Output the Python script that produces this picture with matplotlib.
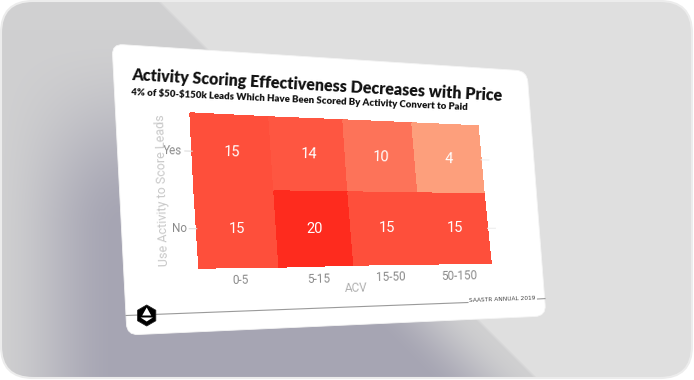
#!/usr/bin/env python3
import numpy as np
import matplotlib.pyplot as plt
from matplotlib.path import Path
from matplotlib.patches import PathPatch, FancyBboxPatch, RegularPolygon, Polygon
from matplotlib.colors import LinearSegmentedColormap

# data
acv_bins = ["0-5", "5-15", "15-50", "50-150"]
scored = ["Yes", "No"]
conv_yes = [15, 14, 10, 4]
conv_no = [15, 20, 15, 15]

title = "Activity Scoring Effectiveness Decreases with Price"
subtitle = "4% of $50-$150k Leads Which Have Been Scored By Activity Convert to Paid"

W, H = 694, 380
fig = plt.figure(figsize=(W / 100, H / 100), dpi=100, facecolor="white")
ax = fig.add_axes([0, 0, 1, 1])
ax.set_xlim(0, W)
ax.set_ylim(H, 0)
ax.axis("off")
renderer = fig.canvas.get_renderer()


def homography(src, dst):
    A, b = [], []
    for (x, y), (u, v) in zip(src, dst):
        A.append([x, y, 1, 0, 0, 0, -u * x, -u * y]); b.append(u)
        A.append([0, 0, 0, x, y, 1, -v * x, -v * y]); b.append(v)
    h = np.linalg.solve(np.array(A, float), np.array(b, float))
    return np.append(h, 1).reshape(3, 3)


def warp(M, x, y):
    x = np.asarray(x, float); y = np.asarray(y, float)
    d = M[2, 0] * x + M[2, 1] * y + M[2, 2]
    return (M[0, 0] * x + M[0, 1] * y + M[0, 2]) / d, (M[1, 0] * x + M[1, 1] * y + M[1, 2]) / d


def angle(M, x, y, dx=0.05, dy=0.0):
    x0, y0 = warp(M, x - dx, y - dy)
    x1, y1 = warp(M, x + dx, y + dy)
    return np.degrees(np.arctan2(-(y1 - y0), x1 - x0))


def rounded_quad(pts, r):
    pts = np.asarray(pts, float)
    verts, codes = [], []
    n = len(pts)
    for i in range(n):
        c = pts[i]
        p = pts[i - 1]
        q = pts[(i + 1) % n]
        a = c + r * (p - c) / np.linalg.norm(p - c)
        b = c + r * (q - c) / np.linalg.norm(q - c)
        verts += [a, c, b]
        codes += [Path.MOVETO if i == 0 else Path.LINETO, Path.CURVE3, Path.CURVE3]
    verts.append(verts[0]); codes.append(Path.CLOSEPOLY)
    return Path(verts, codes)


def fit_text(x0, y0, x1, y1, s, **kw):
    t = ax.text(x0, y0, s, ha="left", va="baseline", fontsize=10, parse_math=False, **kw)
    w = t.get_window_extent(renderer).width
    t.set_fontsize(10 * np.hypot(x1 - x0, y1 - y0) / w)
    t.set_rotation(np.degrees(np.arctan2(-(y1 - y0), x1 - x0)))
    t.set_rotation_mode("anchor")
    return t


# background frame with shadow
frame = FancyBboxPatch((1, 1), W - 3, H - 3, boxstyle="round,pad=0,rounding_size=32",
                       facecolor="none", edgecolor="#ececec", linewidth=1.5, zorder=3)
ax.add_patch(frame)
yy, xx = np.mgrid[0:H, 0:W] + 0.5
light = np.array([0xdf, 0xdf, 0xdf]) / 255
mid = np.array([0xd0, 0xd0, 0xd1]) / 255
dark = np.array([0xa6, 0xa5, 0xb3]) / 255


def sm(a):
    a = np.clip(a, 0, 1)
    return a * a * (3 - 2 * a)


diag = (160 + yy - xx) / 1.414
inside = np.clip(diag / 3, 0, 1)[..., None]
t = (sm((yy - 30) / 200) * sm((xx + 10) / 130) * sm(diag / 80))[..., None]
shade = mid + (dark - mid) * t
bg = light * (1 - inside) + shade * inside
im = ax.imshow(bg, extent=(0, W, H, 0), zorder=0, interpolation="bilinear")
clip = FancyBboxPatch((1, 1), W - 3, H - 3, boxstyle="round,pad=0,rounding_size=32",
                      transform=ax.transData, facecolor="none")
im.set_clip_path(clip)

# card
card = [(112, 44), (527, 71), (546, 316), (127, 335)]
ax.add_patch(PathPatch(rounded_quad(card, 11), facecolor="white", edgecolor="#f4f4f4",
                       linewidth=0.6, zorder=1))

# heatmap in the tilted plane
HM = homography([(0, 0), (4, 0), (4, 2), (0, 2)],
                [(190, 113), (478, 126), (491, 263), (199, 268)])
cmap = LinearSegmentedColormap.from_list("sc", ["#fd9f7c", "#fe2b1e"])
vals = np.array([conv_yes, conv_no])
gx, gy = np.meshgrid(np.arange(len(acv_bins) + 1), np.arange(len(scored) + 1))
px, py = warp(HM, gx, gy)
ax.pcolormesh(px, py, vals, cmap=cmap, vmin=4, vmax=20, shading="flat",
              edgecolors="face", linewidth=0.3, zorder=2)

for i in range(len(scored)):
    for j in range(len(acv_bins)):
        cx, cy = warp(HM, j + 0.5, i + 0.5)
        ax.text(cx, cy, str(vals[i, j]), color="white", fontsize=10.5, family="Roboto",
                ha="center", va="center", rotation=angle(HM, j + 0.5, i + 0.5),
                rotation_mode="anchor", zorder=4)

for j, lab in enumerate(acv_bins):
    cx, cy = warp(HM, j + 0.5, 2.17)
    ax.text(cx, cy, lab, color="#8a8a8a", fontsize=8.5, family="Roboto",
            ha="center", va="center", rotation=angle(HM, j + 0.5, 2.17),
            rotation_mode="anchor", zorder=4)
cx, cy = warp(HM, 2, 2.31)
ax.text(cx, cy, "ACV", color="#b0b0b0", fontsize=8.5, family="Roboto",
        ha="center", va="center", rotation=angle(HM, 2, 2.31), rotation_mode="anchor", zorder=4)

for i, lab in enumerate(scored):
    cx, cy = warp(HM, -0.12, i + 0.5)
    ax.text(cx, cy, lab, color="#8a8a8a", fontsize=8.5, family="Roboto",
            ha="right", va="center", rotation=angle(HM, -0.12, i + 0.5),
            rotation_mode="anchor", zorder=4)
    lx, ly = warp(HM, [-0.09, 0.0], [i + 0.5, i + 0.5])
    ax.plot(lx, ly, color="#dddddd", lw=0.8, zorder=3)
    lx, ly = warp(HM, [4.0, 4.12], [i + 0.5, i + 0.5])
    ax.plot(lx, ly, color="#eeeeee", lw=0.8, zorder=3)

ax.text(162.5, 190, "Use Activity to Score Leads", color="#c8c8c8", fontsize=9,
        family="Roboto", ha="center", va="center", rotation=91.5,
        rotation_mode="anchor", zorder=4)

# titles
fit_text(131, 80.5, 502, 101.5, title, color="#111111", family="Lato", weight="heavy", zorder=4)
fit_text(131.5, 95.5, 467, 110.5, subtitle, color="#111111", family="Lato", weight="heavy", zorder=4)

# footer
ax.plot([126, 468], [315.5, 302.5], color="#9a9a9a", lw=0.8, zorder=3)
ax.plot([537.5, 545], [299, 298.6], color="#9a9a9a", lw=0.8, zorder=3)
fit_text(469.5, 302, 536.5, 299.6, "SAASTR ANNUAL 2019", color="#444444", zorder=4)
ax.add_patch(RegularPolygon((146.7, 315.5), 6, radius=10.5, orientation=0,
                            facecolor="black", edgecolor="#222222", lw=0.6, zorder=5))
ax.add_patch(Polygon([(146.7, 307.5), (142.2, 315.5), (151.2, 315.5)],
                     facecolor="white", edgecolor="none", zorder=6))
ax.add_patch(Polygon([(140.5, 317.5), (152.9, 317.5), (146.7, 321.5)],
                     facecolor="white", edgecolor="none", zorder=6))

fig.savefig("out.png", dpi=100, facecolor="white")
